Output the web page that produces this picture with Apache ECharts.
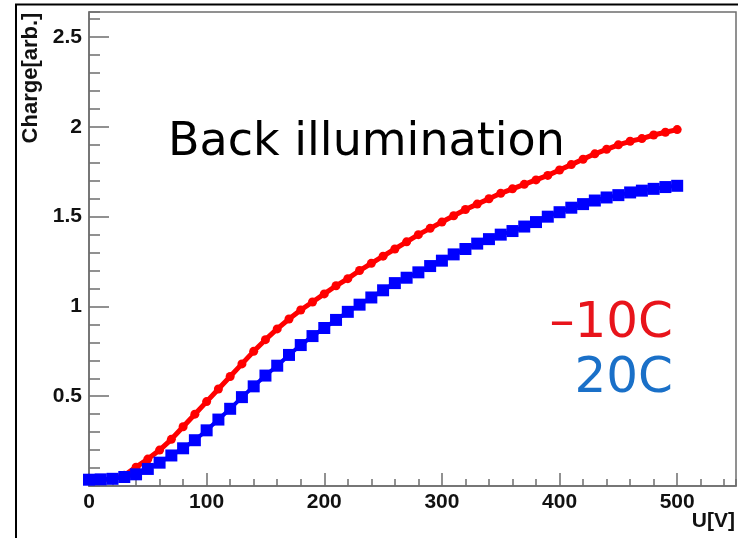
<!DOCTYPE html>
<html>
<head>
<meta charset="utf-8">
<script src="https://cdn.jsdelivr.net/npm/echarts@6/dist/echarts.min.js"></script>
<style>
  html, body { margin: 0; padding: 0; background: #ffffff; }
  #chart { width: 738px; height: 538px; }
</style>
</head>
<body>
<div id="chart"></div>
<script>
// Bias voltage scan, 10 V steps
const voltages = [0, 10, 20, 30, 40, 50, 60, 70, 80, 90,
  100, 110, 120, 130, 140, 150, 160, 170, 180, 190,
  200, 210, 220, 230, 240, 250, 260, 270, 280, 290,
  300, 310, 320, 330, 340, 350, 360, 370, 380, 390,
  400, 410, 420, 430, 440, 450, 460, 470, 480, 490, 500];

// Collected charge at -10C
const chargeCold = [0.03, 0.033, 0.04, 0.06, 0.105, 0.15, 0.20, 0.26, 0.33, 0.40,
  0.47, 0.54, 0.61, 0.68, 0.75, 0.815, 0.875, 0.93, 0.98, 1.025,
  1.07, 1.115, 1.155, 1.20, 1.24, 1.28, 1.32, 1.36, 1.40, 1.435,
  1.47, 1.505, 1.54, 1.57, 1.60, 1.63, 1.655, 1.68, 1.705, 1.73,
  1.76, 1.79, 1.82, 1.85, 1.875, 1.90, 1.92, 1.935, 1.955, 1.97, 1.985];

// Collected charge at 20C
const chargeWarm = [0.035, 0.037, 0.04, 0.05, 0.065, 0.095, 0.13, 0.17, 0.21, 0.255,
  0.31, 0.37, 0.43, 0.495, 0.555, 0.615, 0.67, 0.73, 0.785, 0.835,
  0.88, 0.925, 0.97, 1.01, 1.05, 1.09, 1.13, 1.16, 1.19, 1.225,
  1.255, 1.29, 1.32, 1.35, 1.375, 1.40, 1.42, 1.445, 1.47, 1.50,
  1.525, 1.55, 1.57, 1.59, 1.607, 1.62, 1.635, 1.645, 1.655, 1.665, 1.672];

const xMax = 550;
const yMax = 2.64;

const pairs = (vals) => voltages.map((v, i) => [v, vals[i]]);

const axisGrey = '#6e6e6e';
const labelFont = { fontFamily: 'Liberation Sans, Arial, sans-serif', fontWeight: 'bold', fontSize: 21, color: '#111' };

const chart = echarts.init(document.getElementById('chart'), null, { renderer: 'canvas' });

chart.setOption({
  animation: false,
  backgroundColor: '#ffffff',
  grid: {
    left: 89, top: 12, right: 2, bottom: 52,
    show: true, borderColor: axisGrey, borderWidth: 1.5, backgroundColor: 'transparent'
  },
  xAxis: [
    {
      type: 'value', min: 0, max: xMax, interval: 100,
      axisLine: { show: true, lineStyle: { color: axisGrey, width: 1.5 } },
      axisTick: { show: true, inside: true, length: 13, lineStyle: { color: axisGrey, width: 1.5 } },
      axisLabel: Object.assign({ margin: 6, showMaxLabel: false }, labelFont),
      splitLine: { show: false }
    },
    {
      // minor ticks every 20 V
      type: 'value', min: 0, max: xMax, interval: 20, position: 'bottom',
      axisLine: { show: false },
      axisTick: { show: true, inside: true, length: 7, lineStyle: { color: axisGrey, width: 1.5 } },
      axisLabel: { show: false },
      splitLine: { show: false }
    }
  ],
  yAxis: [
    {
      type: 'value', min: 0, max: yMax, interval: 0.5,
      axisLine: { show: true, lineStyle: { color: axisGrey, width: 1.5 } },
      axisTick: { show: true, inside: true, length: 20, lineStyle: { color: axisGrey, width: 1.5 } },
      axisLabel: Object.assign({ margin: 7, showMinLabel: false, showMaxLabel: false }, labelFont),
      splitLine: { show: false }
    },
    {
      // minor ticks every 0.1
      type: 'value', min: 0, max: yMax, interval: 0.1, position: 'left',
      axisLine: { show: false },
      axisTick: { show: true, inside: true, length: 11, lineStyle: { color: axisGrey, width: 1.5 } },
      axisLabel: { show: false },
      splitLine: { show: false }
    }
  ],
  series: [
    {
      name: '-10C', type: 'line', xAxisIndex: 0, yAxisIndex: 0,
      data: pairs(chargeCold),
      symbol: 'circle', symbolSize: 9,
      itemStyle: { color: '#ff0000' },
      lineStyle: { color: '#ff0000', width: 5 },
      z: 3
    },
    {
      name: '20C', type: 'line', xAxisIndex: 0, yAxisIndex: 0,
      data: pairs(chargeWarm),
      symbol: 'rect', symbolSize: 12,
      itemStyle: { color: '#0000ff' },
      lineStyle: { color: '#0000ff', width: 4 },
      z: 4
    }
  ],
  graphic: [
    {
      // outer frame of the canvas
      type: 'rect', silent: true, z: 10,
      shape: { x: 16, y: 4.5, width: 800, height: 600 },
      style: { fill: 'none', stroke: '#000', lineWidth: 2 }
    },
    {
      type: 'text', z: 10,
      x: 31, y: 78, rotation: Math.PI / 2,
      style: {
        text: 'Charge[arb.]', align: 'center', verticalAlign: 'middle',
        font: 'bold 22px "Liberation Sans", Arial, sans-serif', fill: '#111'
      }
    },
    {
      type: 'text', z: 10,
      x: 735, y: 521,
      style: {
        text: 'U[V]', align: 'right', verticalAlign: 'middle',
        font: 'bold 21px "Liberation Sans", Arial, sans-serif', fill: '#111'
      }
    },
    {
      type: 'text', z: 10,
      x: 168, y: 143,
      style: {
        text: 'Back illumination', align: 'left', verticalAlign: 'middle',
        font: '46px "DejaVu Sans", sans-serif', fill: '#000'
      }
    },
    {
      type: 'text', z: 10,
      x: 673, y: 324,
      style: {
        text: '\u201310C', align: 'right', verticalAlign: 'middle',
        font: '50px "DejaVu Sans", sans-serif', fill: '#e8141b'
      }
    },
    {
      type: 'text', z: 10,
      x: 673, y: 379,
      style: {
        text: '20C', align: 'right', verticalAlign: 'middle',
        font: '50px "DejaVu Sans", sans-serif', fill: '#1a70c8'
      }
    }
  ]
});
</script>
</body>
</html>
